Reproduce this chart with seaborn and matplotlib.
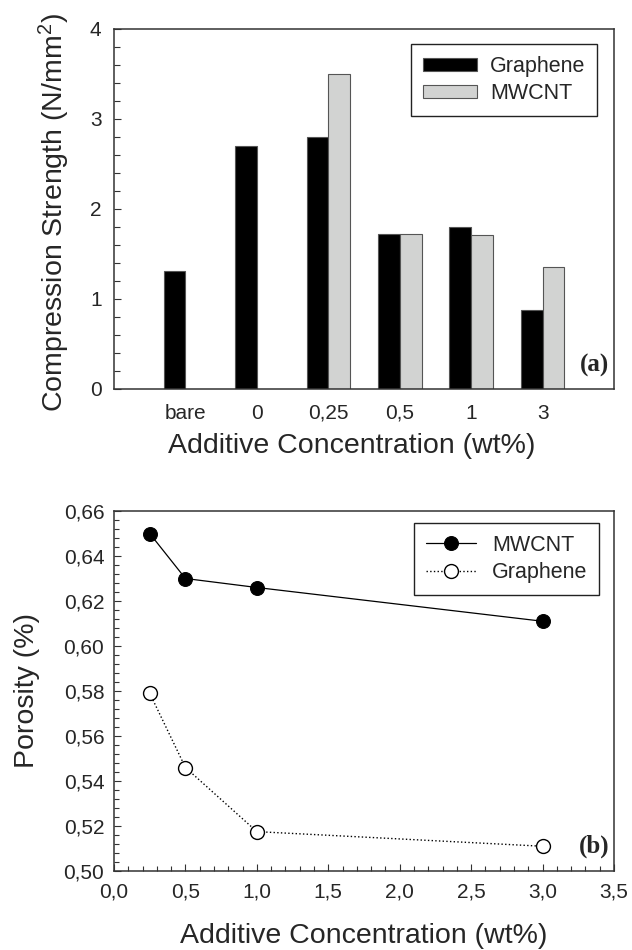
import numpy as np
import pandas as pd
import seaborn as sns
import matplotlib.pyplot as plt
from matplotlib.ticker import MultipleLocator, FuncFormatter

# (a) compression strength, bar chart
categories = ['bare', '0', '0,25', '0,5', '1', '3']
graphene_strength = [1.31, 2.70, 2.80, 1.72, 1.80, 0.88]
mwcnt_strength = [np.nan, np.nan, 3.50, 1.72, 1.71, 1.36]

# (b) porosity vs concentration
conc = [0.25, 0.5, 1.0, 3.0]
mwcnt_porosity = [0.650, 0.630, 0.626, 0.611]
graphene_porosity = [0.579, 0.546, 0.5175, 0.511]

sns.set_style('ticks')
plt.rcParams['font.family'] = ['Liberation Sans', 'DejaVu Sans']
plt.rcParams['mathtext.fontset'] = 'custom'
plt.rcParams['mathtext.rm'] = 'Liberation Sans'

SPINE = '#333333'
LABEL_FS = 20.5
TICK_FS = 15
LEG_FS = 15.5

df = pd.DataFrame({
    'conc': categories * 2,
    'material': ['Graphene'] * len(categories) + ['MWCNT'] * len(categories),
    'strength': graphene_strength + mwcnt_strength,
})

fig = plt.figure(figsize=(6.32, 9.5), dpi=100)
ax1 = fig.add_axes([114 / 632, 1 - 389 / 950, 500 / 632, 360 / 950])
ax2 = fig.add_axes([114 / 632, 1 - 871 / 950, 500 / 632, 360 / 950])

# ---- top panel
sns.barplot(data=df, x='conc', y='strength', hue='material', order=categories,
            hue_order=['Graphene', 'MWCNT'],
            palette={'Graphene': 'black', 'MWCNT': '#d2d3d2'},
            width=0.61, edgecolor='#555555', linewidth=0.8, saturation=1, ax=ax1)
ax1.set_xlim(-1, 6)
ax1.set_ylim(0, 4)
ax1.yaxis.set_major_locator(MultipleLocator(1))
ax1.yaxis.set_minor_locator(MultipleLocator(0.2))
ax1.tick_params(axis='y', which='both', direction='in', left=True, labelsize=TICK_FS,
                pad=9, color=SPINE)
ax1.tick_params(axis='y', which='major', length=5, width=0.8)
ax1.tick_params(axis='y', which='minor', length=4, width=0.8)
ax1.tick_params(axis='x', length=0, labelsize=TICK_FS, pad=10.5)
ax1.set_xlabel('Additive Concentration (wt%)', fontsize=LABEL_FS)
ax1.set_ylabel('Compression Strength (N/mm$\\mathregular{^2}$)', fontsize=LABEL_FS)
ax1.xaxis.set_label_coords(0.476, -0.122)
ax1.xaxis.label.set_va('top')
ax1.yaxis.set_label_coords(-0.084, 0.49)
sns.move_legend(ax1, 'upper right', bbox_to_anchor=(0.966, 0.958), title=None,
                fontsize=LEG_FS, frameon=True, fancybox=False, framealpha=1,
                edgecolor='#222222', borderpad=0.55, borderaxespad=0, labelspacing=0.3,
                handlelength=2.5, handleheight=0.55, handletextpad=0.6)
ax1.get_legend().get_frame().set_linewidth(1.0)
ax1.text(0.99, 0.033, '(a)', transform=ax1.transAxes, ha='right', va='bottom',
         fontsize=18, fontweight='bold', family='Liberation Serif')

# ---- bottom panel
sns.lineplot(x=conc, y=mwcnt_porosity, color='black', linewidth=0.9, linestyle='-',
             marker='o', markersize=10, markerfacecolor='black',
             markeredgecolor='black', label='MWCNT', ax=ax2)
sns.lineplot(x=conc, y=graphene_porosity, color='black', linewidth=1.0, linestyle=':',
             marker='o', markersize=10, markerfacecolor='white',
             markeredgecolor='black', markeredgewidth=1.0, label='Graphene', ax=ax2)
ax2.set_xlim(0, 3.5)
ax2.set_ylim(0.50, 0.66)
ax2.xaxis.set_major_locator(MultipleLocator(0.5))
ax2.xaxis.set_minor_locator(MultipleLocator(0.1))
ax2.yaxis.set_major_locator(MultipleLocator(0.02))
ax2.yaxis.set_minor_locator(MultipleLocator(0.004))
ax2.xaxis.set_major_formatter(FuncFormatter(lambda v, p: f'{v:.1f}'.replace('.', ',')))
ax2.yaxis.set_major_formatter(FuncFormatter(lambda v, p: f'{v:.2f}'.replace('.', ',')))
ax2.tick_params(which='both', direction='in', bottom=True, left=True,
                labelsize=TICK_FS, color=SPINE, width=0.8)
ax2.tick_params(which='major', length=5)
ax2.tick_params(which='minor', length=3.5)
ax2.tick_params(axis='x', pad=8.5)
ax2.tick_params(axis='y', pad=7)
ax2.set_xlabel('Additive Concentration (wt%)', fontsize=LABEL_FS)
ax2.set_ylabel('Porosity (%)', fontsize=LABEL_FS)
ax2.xaxis.set_label_coords(0.5, -0.144)
ax2.xaxis.label.set_va('top')
ax2.yaxis.set_label_coords(-0.148, 0.5)
leg = ax2.legend(loc='upper right', bbox_to_anchor=(0.97, 0.967), fontsize=LEG_FS,
                 frameon=True, fancybox=False, framealpha=1, edgecolor='#222222',
                 borderpad=0.55, borderaxespad=0, labelspacing=0.3, handlelength=2.3,
                 handletextpad=0.75)
leg.get_frame().set_linewidth(1.0)
ax2.text(0.99, 0.036, '(b)', transform=ax2.transAxes, ha='right', va='bottom',
         fontsize=18, fontweight='bold', family='Liberation Serif')

for ax in (ax1, ax2):
    for s in ax.spines.values():
        s.set_visible(True)
        s.set_color(SPINE)
        s.set_linewidth(1.1)

fig.savefig('out.png', dpi=100)
